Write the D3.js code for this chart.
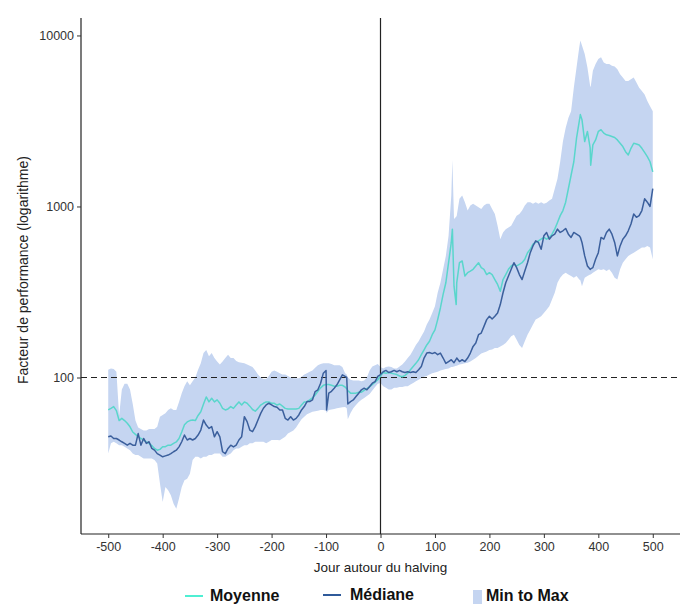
<!DOCTYPE html>
<html>
<head>
<meta charset="utf-8">
<script src="https://cdn.jsdelivr.net/npm/d3@7"></script>
<style>
  html, body { margin: 0; padding: 0; background: #ffffff; }
  svg { display: block; }
</style>
</head>
<body>
<svg id="chart" width="682" height="605"></svg>
<script>
// Days relative to the halving (day 0)
const days = [
  -500,-495,-490,-485,-480,-475,-470,-465,-460,-455,-450,-445,-440,-435,-430,-425,-420,-415,-410,-405,
  -400,-395,-390,-385,-380,-375,-370,-365,-360,-355,-350,-345,-340,-335,-330,-325,-320,-315,-310,-305,
  -300,-295,-290,-285,-280,-275,-270,-265,-260,-255,-250,-245,-240,-235,-230,-225,-220,-215,-210,-205,
  -200,-195,-190,-185,-180,-175,-170,-165,-160,-155,-150,-145,-140,-135,-130,-125,-120,-115,-110,-105,
  -100,-99,-95,-90,-85,-80,-75,-70,-65,-62,-60,-55,-50,-45,-40,-35,-30,-25,-20,-15,-10,-5,
  0,5,10,15,20,25,30,35,40,45,50,55,60,65,70,75,80,85,90,95,
  100,105,110,115,120,125,130,132,135,139,140,145,150,155,160,165,170,175,180,185,190,195,
  200,205,210,215,220,225,230,235,240,245,250,255,260,265,270,275,280,285,290,295,
  300,305,310,315,320,325,330,335,340,345,350,355,360,365,367,370,375,380,385,386,390,395,
  400,405,410,415,420,425,430,435,440,445,450,455,460,465,470,475,480,485,490,495,500
];

// Mean performance factor (base 100)
const moyenne = [
  64.6,66,67.6,64,56,57.7,56,54,51.5,48,46.5,45,44,43,42,41.2,40,38.5,37.6,38,
  39.4,39.4,40.2,40.2,41.2,42,44,48,53,55,56,56.5,56,60,63,70,77,72,75.6,72,
  74,70.7,66,64.6,65.5,67.6,66,69,72,69,72,70.7,68,65,63.5,66,69,70.7,72,72,
  70.7,70.7,69,70,68,66,65.5,65.5,65.5,65.5,66,69,72,72,74,76,79,83,87,90,
  91,91,91,90,89,89,90,90,88,86,84,81,81,81,82,82,84,86,88,91,94,97,
  102,107,106,107,106,105,104,102,101,103,106,111,116,121,127,136,145,155,163,178,
  190,218,255,306,358,469,616,737,342,267,358,469,480,392,410,419,429,449,469,439,429,400,
  410,400,374,350,319,374,400,429,449,459,449,459,469,491,537,562,602,616,630,644,
  659,644,659,689,737,807,884,947,1060,1270,1523,1826,2508,3147,3445,3219,2397,2746,2200,1745,2290,2450,
  2746,2810,2685,2624,2600,2566,2530,2450,2343,2240,2092,1999,2189,2343,2320,2290,2189,2070,1955,1826,1593
];

// Median performance factor (base 100)
const mediane = [
  45,45.5,44,44,43.1,42.1,41.2,40.2,41.2,40.2,40.2,47,40.2,44,41.2,42.1,38.5,37.6,35.9,35.2,
  34.4,34.8,35.2,35.9,36.8,37.6,39.3,42.1,46.1,43.1,44,43.1,44,46.1,49.3,56.4,52.7,50.4,51.6,45,
  48.2,45,36.8,35.9,38.5,40.2,39.3,40.2,43.1,45,59,55.2,49.3,48.2,51.6,56.4,61.7,66.1,69.1,70.7,
  69.1,67.6,67,64.6,64.6,57.7,56.4,59,56.4,57.7,60.4,64.6,67.6,72.3,72.3,73.9,82.8,84.7,92.6,106,
  110,64.6,81,83,86.6,90.6,96.9,103.7,101.4,100,70,72.3,73.9,77.4,81,84.7,86.6,84.7,88.5,92.6,94.7,101.4,
  104,108,110,107,108,110,108,110,108,107,108,107,108,107,111,116,130,139,140,138,
  140,136,139,130,121,124,127,125,122,128,130,124,127,124,130,139,152,159,178,182,199,218,
  228,220,228,238,267,313,358,392,429,469,439,400,374,419,469,537,588,630,616,562,
  674,705,644,674,689,737,705,721,744,689,659,705,689,674,660,616,514,449,429,432,439,491,
  537,659,644,705,737,689,616,514,588,644,674,721,790,904,864,884,947,1109,1060,1000,1270
];

// Lowest value across cycles
const minimum = [
  35.9,41.2,42.1,41.2,40.2,40.2,39.3,38.5,37.6,35.9,35.2,35.2,34.4,33.6,33.6,33.6,33.6,32.9,31.4,24,
  18.7,22.9,21.9,20.5,18.3,17.1,19.6,22.9,25.1,25.6,27.4,32.9,34.4,34.4,33.6,34.4,34.4,35.2,35.2,35.9,
  35.9,35.9,34.4,34.4,35.2,35.9,37.6,38.5,38.5,39.3,40.2,40.2,41.2,41.2,42.1,42.1,42.1,42.1,41.2,42.1,
  43.1,43.1,43.1,43,44,45,47,48,49,51,54,57,59,61,62,63,63.5,64,64.5,64.5,
  64,62,64.5,65,65.5,66,66.5,67,67.3,66,57,62,66,69,72,74,76,78,80,84,88,92,
  93,89,87,85,85,87,87,88,88,89,89,91,93,95,97,99,101,102,104,106,
  107,108,110,111,112,113,115,115,116,117,117,119,120,121,122,124,127,130,134,138,140,142,
  145,146,149,149,152,155,159,166,174,178,166,155,149,163,178,190,204,218,223,228,
  238,249,261,286,313,358,383,400,410,400,392,383,392,374,370,342,383,392,400,400,410,419,
  429,425,429,419,429,410,383,374,429,469,491,514,526,537,550,562,575,575,588,575,491
];

// Highest value across cycles
const maximum = [
  111,113,112,108,60,85,92,92,85,70,56,51,50,49,49,50,50,50,51.6,59,
  60.4,61.7,64.6,66.1,64.6,64.6,72,81,89,95,90,95,100,111,121,139,145,133,139,130,
  124,119,124,130,136,130,130,125,123,122,121,119,117,115,110,104,100,98,98,102,
  108,110,108,106,104,104,102,100,99,99,99,101,104,106,108,110,114,118,120,121,
  121,121,121,120,118,118,118,115,106,104,100,97,96,96,96,95,96,100,110,116,118,120,
  115,113,115,116,115,113,113,116,119,124,130,136,145,155,163,174,186,204,218,238,
  261,313,358,429,514,674,1160,1870,845,870,884,1109,1160,1060,947,1013,1037,1013,990,968,1013,1037,
  1037,968,904,772,644,705,737,754,772,825,884,904,947,1013,1060,1060,1037,1060,1037,1060,
  1037,1050,1085,1109,1270,1455,1826,2397,2874,3293,3605,4953,6502,8536,9346,8730,7795,6502,5065,5000,6214,6804,
  7284,7450,6960,6804,6804,6650,6580,6355,5938,5675,5423,5423,5548,5675,5300,4953,4733,4523,4131,3860,3605
];

const xTicks = [-500, -400, -300, -200, -100, 0, 100, 200, 300, 400, 500];
const yTicks = [100, 1000, 10000];
const legendLabels = ["Moyenne", "Médiane", "Min to Max"];

const colors = {
  band: "#c5d5f1",
  mean: "#5ad6cc",
  median: "#3b5f9c",
  meanKey: "#4fefd3",
  medianKey: "#2f5a9a"
};

const rows = days.map((d, i) => ({
  day: d,
  mean: moyenne[i],
  median: mediane[i],
  lo: minimum[i],
  hi: maximum[i]
}));

const svg = d3.select("#chart");
const plotLeft = 81, plotRight = 680, plotTop = 18, plotBottom = 534;
const baseFont = "'Liberation Sans', Arial, sans-serif";

const x = d3.scaleLinear().domain([-550, 550]).range([plotLeft, plotRight]);
const y = d3.scaleLog().domain([12.16, 12650]).range([plotBottom, plotTop]);

// Min-max band
svg.append("path")
  .datum(rows)
  .attr("fill", colors.band)
  .attr("d", d3.area()
    .x(d => x(d.day))
    .y0(d => y(d.lo))
    .y1(d => y(d.hi)));

// Reference lines: base 100 and halving day
svg.append("line")
  .attr("x1", plotLeft).attr("x2", plotRight)
  .attr("y1", y(100)).attr("y2", y(100))
  .attr("stroke", "#222").attr("stroke-width", 1.2)
  .attr("stroke-dasharray", "6,4");

svg.append("line")
  .attr("x1", x(0)).attr("x2", x(0))
  .attr("y1", plotTop).attr("y2", plotBottom)
  .attr("stroke", "#222").attr("stroke-width", 1.2);

// Mean and median lines
svg.append("path")
  .datum(rows)
  .attr("fill", "none")
  .attr("stroke", colors.mean)
  .attr("stroke-width", 1.5)
  .attr("stroke-linejoin", "round")
  .attr("d", d3.line().x(d => x(d.day)).y(d => y(d.mean)));

svg.append("path")
  .datum(rows)
  .attr("fill", "none")
  .attr("stroke", colors.median)
  .attr("stroke-width", 1.5)
  .attr("stroke-linejoin", "round")
  .attr("d", d3.line().x(d => x(d.day)).y(d => y(d.median)));

// Axes (plain hyphen for negative day labels)
const plainNumber = d => String(d);
const xAxis = svg.append("g")
  .attr("transform", `translate(0,${plotBottom})`)
  .call(d3.axisBottom(x).tickValues(xTicks).tickSize(4).tickPadding(4).tickFormat(plainNumber));
const yAxis = svg.append("g")
  .attr("transform", `translate(${plotLeft},0)`)
  .call(d3.axisLeft(y).tickValues(yTicks).tickSize(4).tickPadding(3).tickFormat(plainNumber));

[xAxis, yAxis].forEach(g => {
  g.select(".domain").attr("stroke", "#222").attr("stroke-width", 1.2);
  g.selectAll(".tick line").attr("stroke", "#333");
  g.selectAll(".tick text")
    .attr("fill", "#333")
    .style("font-family", baseFont)
    .style("font-size", "12.5px");
});
yAxis.select(".domain").attr("d", `M0,${plotTop}V${plotBottom}`);
xAxis.select(".domain").attr("d", `M${plotLeft},0H${plotRight}`);

// Axis titles
svg.append("text")
  .attr("x", (plotLeft + plotRight) / 2)
  .attr("y", 572)
  .attr("text-anchor", "middle")
  .attr("fill", "#222")
  .style("font-family", baseFont)
  .style("font-size", "13.5px")
  .text("Jour autour du halving");

svg.append("text")
  .attr("transform", "translate(28,270) rotate(-90)")
  .attr("text-anchor", "middle")
  .attr("fill", "#222")
  .style("font-family", baseFont)
  .style("font-size", "14px")
  .text("Facteur de performance (logarithme)");

// Legend
const legendFont = "'Liberation Sans Narrow', 'Arial Narrow', 'Liberation Sans', sans-serif";
const legend = svg.append("g");

legend.append("line")
  .attr("x1", 185).attr("x2", 203).attr("y1", 596).attr("y2", 596)
  .attr("stroke", colors.meanKey).attr("stroke-width", 2);
legend.append("text")
  .attr("x", 210).attr("y", 601)
  .text(legendLabels[0]);

legend.append("line")
  .attr("x1", 323).attr("x2", 341).attr("y1", 595).attr("y2", 595)
  .attr("stroke", colors.medianKey).attr("stroke-width", 2);
legend.append("text")
  .attr("x", 350).attr("y", 600)
  .text(legendLabels[1]);

legend.append("rect")
  .attr("x", 473).attr("y", 590).attr("width", 9).attr("height", 14)
  .attr("fill", colors.band);
legend.append("text")
  .attr("x", 486).attr("y", 601)
  .text(legendLabels[2]);

legend.selectAll("text")
  .attr("fill", "#111")
  .style("font-family", legendFont)
  .style("font-weight", "bold")
  .style("font-size", "16px");
</script>
</body>
</html>
